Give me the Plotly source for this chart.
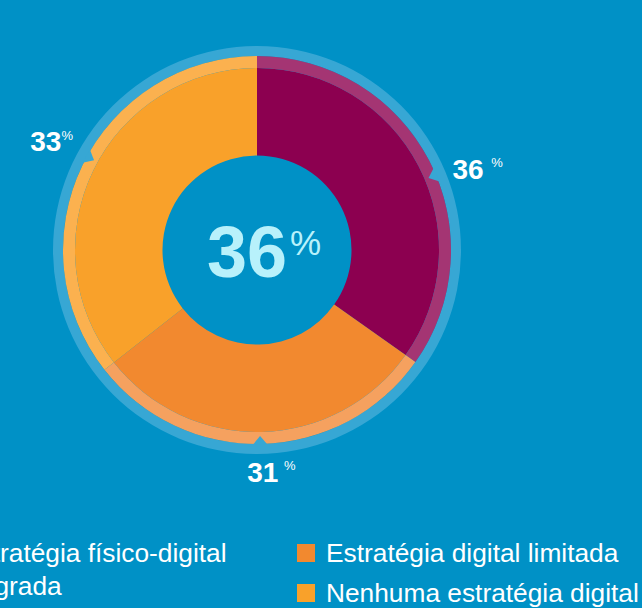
import plotly.graph_objects as go

# ---- data ----
categories = ["Estratégia físico-digital integrada", "Estratégia digital limitada", "Nenhuma estratégia digital"]
label_pct = [36, 31, 33]            # printed percentages
arc_share = [34.8, 29.6, 35.6]      # arc sizes as drawn in the picture
center_value = 36
legend_lines = [["Estratégia físico-digital", "integrada"], ["Estratégia digital limitada"], ["Nenhuma estratégia digital"]]

# ---- styles ----
BG = "#0091c6"
RING = "#37a7d4"
slice_colors = ["#8c0050", "#f2892f", "#f9a12a"]
band_colors = ["#a43573", "#f5a15f", "#fbb14f"]
CENTER_TXT = "#b8f1fb"
FONT = "Liberation Sans, Arial, Helvetica, sans-serif"

# geometry in radial units (1 unit = 1 px)
R_AXIS = 240
R_HOLE, R_MAIN, R_BAND, R_RING_IN, R_RING_OUT = 94.5, 182, 194, 194, 204
CX, CY = 257, 250
W, H = 642, 608
label_r = [234, 225.5, 231]          # radius of each label
label_nudge = [7.9, -2.2, 1.3]       # angular offset of label from arc middle (deg)
notch_nudge = [4.6, 0.5, 2.9]        # angular offset of notch from arc middle (deg)
label_gap = [" ", "&#8201;", ""]     # gap between number and %

def cum_mid(values):
    total = sum(values)
    out, acc = [], 0
    for v in values:
        out.append((acc + v / 2) / total * 360)
        acc += v
    return out

arc_deg = [v / sum(arc_share) * 360 for v in arc_share]
arc_mid = cum_mid(arc_share)

fig = go.Figure()

# outer light-blue ring
fig.add_trace(go.Barpolar(theta=[180], width=[360], base=[R_RING_IN], r=[R_RING_OUT - R_RING_IN],
                          marker=dict(color=RING, line=dict(width=0)), hoverinfo="skip"))
# main slices
fig.add_trace(go.Barpolar(theta=arc_mid, width=arc_deg, base=[R_HOLE] * 3, r=[R_MAIN - R_HOLE] * 3,
                          marker=dict(color=slice_colors, line=dict(width=0)), hoverinfo="skip"))
# lighter outer band
fig.add_trace(go.Barpolar(theta=arc_mid, width=arc_deg, base=[R_MAIN] * 3, r=[R_BAND - R_MAIN] * 3,
                          marker=dict(color=band_colors, line=dict(width=0)), hoverinfo="skip"))
# notches pointing to the labels
for m, n in zip(arc_mid, notch_nudge):
    a = m + n
    fig.add_trace(go.Scatterpolar(r=[R_RING_IN + 1, R_RING_IN - 8, R_RING_IN + 1],
                                  theta=[a - 2.2, a, a + 2.2], mode="lines", fill="toself",
                                  fillcolor=RING, line=dict(width=0, color=RING), hoverinfo="skip"))
# percentage labels
fig.add_trace(go.Scatterpolar(
    r=label_r, theta=[m + n for m, n in zip(arc_mid, label_nudge)], mode="text",
    text=[f"<b>{v}</b>{g}<sup><span style='font-size:13px'>%</span></sup>" for v, g in zip(label_pct, label_gap)],
    textfont=dict(family=FONT, size=28, color="white"), textposition="middle center",
    hoverinfo="skip", cliponaxis=False))

fig.update_layout(
    width=W, height=H, autosize=False,
    margin=dict(l=0, r=0, t=0, b=0),
    paper_bgcolor=BG, plot_bgcolor=BG, showlegend=False,
    polar=dict(
        domain=dict(x=[(CX - R_AXIS) / W, (CX + R_AXIS) / W],
                    y=[1 - (CY + R_AXIS) / H, 1 - (CY - R_AXIS) / H]),
        bgcolor="rgba(0,0,0,0)", barmode="overlay", bargap=0, hole=0,
        radialaxis=dict(range=[0, R_AXIS], visible=False),
        angularaxis=dict(rotation=90, direction="clockwise", visible=False),
    ),
)

# centre value
fig.add_annotation(x=247 / W, y=1 - 252 / H, xref="paper", yref="paper", showarrow=False,
                   text=f"<b>{center_value}</b>", font=dict(family=FONT, size=72, color=CENTER_TXT),
                   xanchor="center", yanchor="middle")
fig.add_annotation(x=305 / W, y=1 - 242 / H, xref="paper", yref="paper", showarrow=False,
                   text="%", font=dict(family=FONT, size=35, color=CENTER_TXT),
                   xanchor="center", yanchor="middle")

# custom legend (left item partly off-canvas as in the reference)
LEG_FONT = 26.3
legend_x = [-40, 324, 324]
legend_y = [553, 553, 593]
legend_line_dx = [[0, -10], [0], [0]]
for i, lines in enumerate(legend_lines):
    for j, line in enumerate(lines):
        fig.add_annotation(x=(legend_x[i] + legend_line_dx[i][j]) / W, y=1 - (legend_y[i] + 33 * j) / H,
                           xref="paper", yref="paper",
                           showarrow=False, text=line, xanchor="left", yanchor="middle",
                           font=dict(family=FONT, size=LEG_FONT, color="white"))
    sx = legend_x[i] - 27
    fig.add_shape(type="rect", xref="paper", yref="paper",
                  x0=sx / W, x1=(sx + 18) / W, y0=1 - (legend_y[i] + 9) / H, y1=1 - (legend_y[i] - 9) / H,
                  fillcolor=slice_colors[i], line=dict(width=0))

fig.write_html("out.html", config={"displayModeBar": False},
               post_script="document.body.style.margin='0';document.body.style.overflow='hidden';")
